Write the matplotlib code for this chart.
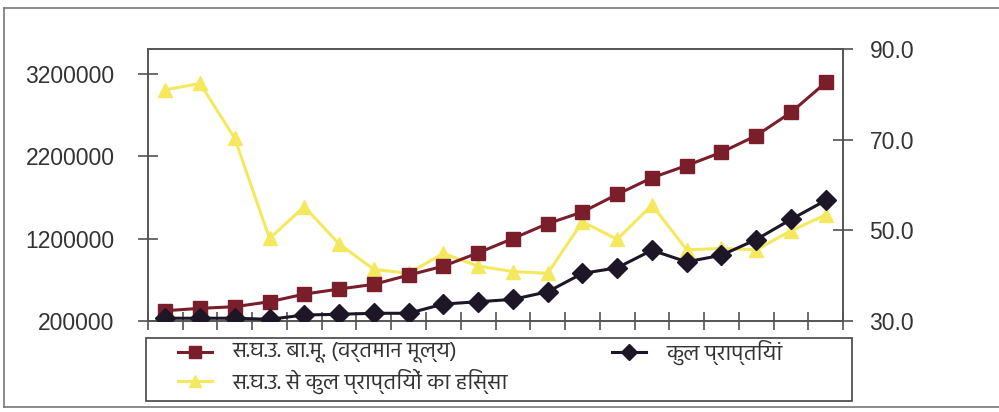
import numpy as np
import matplotlib
matplotlib.use("Agg")
import matplotlib.pyplot as plt
from matplotlib import font_manager as fm
from matplotlib.lines import Line2D
from matplotlib.patches import Rectangle

# वर्ष (20 अवलोकन)
years = np.arange(1, 21)

# स.घ.उ. बा.मू. (वर्तमान मूल्य)
gdp = [324000, 353000, 373000, 433000, 526000, 587000, 644000, 756000, 865000, 1026000,
       1200000, 1381000, 1522000, 1736000, 1938000, 2086000, 2247000, 2449000, 2731000, 3094000]
# कुल प्राप्तियां
receipts = [233000, 233000, 233000, 220000, 272000, 281000, 293000, 293000, 405000, 433000,
            462000, 554000, 777000, 845000, 1058000, 917000, 998000, 1188000, 1433000, 1663000]
# स.घ.उ. से कुल प्राप्तियों का हिस्सा (%)
share = [81.0, 82.4, 70.3, 48.2, 55.2, 47.0, 41.4, 40.5, 44.9, 42.1,
         40.9, 40.5, 51.9, 48.0, 55.6, 45.7, 46.0, 45.7, 49.9, 53.4]

left_ticks = [200000, 1200000, 2200000, 3200000]
right_ticks = [30, 50, 70, 90]

lbl_gdp = "स.घ.उ. बा.मू. (वर्तमान मूल्य)"
lbl_rec = "कुल प्राप्तियां"
lbl_share = "स.घ.उ. से कुल प्राप्तियों का हिस्सा"


def first_font(names):
    for n in names:
        try:
            fm.findfont(n, fallback_to_default=False)
            return n
        except Exception:
            pass
    return None


deva = first_font(["Hind", "Mukta", "Noto Sans Devanagari", "Yantramanav", "Poppins"])
deva_fams = ([deva] if deva else []) + ["Liberation Sans", "DejaVu Sans"]
plt.rcParams["font.family"] = ["Liberation Sans", "DejaVu Sans"]

red = "#7a1e2c"
dark = "#1c1626"
yel = "#f4e95e"
bg = "#ccc9c6"

fig = plt.figure(figsize=(9.99, 4.12), dpi=100)
ax = fig.add_axes([0.148, 0.221, 0.696, 0.660])
ax2 = ax.twinx()
# gray patch on the secondary axes, so the yellow line sits under the left-axis series
ax2.set_facecolor(bg)
ax.patch.set_visible(False)
ax.set_zorder(2)
ax2.set_zorder(1)

x = np.arange(len(years))
l1, = ax.plot(x, gdp, color=red, lw=2.2, marker="s", ms=9.5, mfc=red, mec=red, zorder=3)
l2, = ax.plot(x, receipts, color=dark, lw=2.2, marker="D", ms=10.5, mfc=dark, mec=dark, zorder=4)
l3, = ax2.plot(x, share, color=yel, lw=2.2, marker="^", ms=10, mfc=yel, mec=yel)

ax.set_xlim(-0.5, len(years) - 0.5)
ax.set_ylim(200000, 3500000)
ax2.set_ylim(30, 90)

ax.set_xticks(np.arange(-0.5, len(years)))
ax.set_xticklabels([])
ax.set_yticks(left_ticks)
ax.set_yticklabels([str(v) for v in left_ticks])
ax2.set_yticks(right_ticks)
ax2.set_yticklabels([f"{v:.1f}" for v in right_ticks])

tc = "#444444"
ax.tick_params(axis="x", direction="inout", length=13, width=1.1, color=tc)
ax.tick_params(axis="y", direction="inout", length=14, width=1.1, color=tc,
               labelsize=16.5, labelcolor="#333333", pad=17)
ax2.tick_params(axis="y", direction="inout", length=14, width=1.1, color=tc,
                labelsize=16.5, labelcolor="#333333", pad=12)
for a in (ax, ax2):
    for s in a.spines.values():
        s.set_color("#555555")
        s.set_linewidth(1.2)

# legend box drawn by hand: two entries in the first row, one in the second
W, H = 999.0, 412.0
fig.add_artist(Rectangle((146 / W, 1 - 401 / H), (852 - 146) / W, (401 - 338) / H,
                         transform=fig.transFigure, fill=False,
                         edgecolor="#444444", lw=1.2))
entries = [(l1, lbl_gdp, 178, 352), (l2, lbl_rec, 612, 352), (l3, lbl_share, 178, 381)]
for line, text, x0, y0 in entries:
    yy = 1 - y0 / H
    fig.add_artist(Line2D([x0 / W, (x0 + 34) / W], [yy, yy], transform=fig.transFigure,
                          color=line.get_color(), lw=2.2))
    fig.add_artist(Line2D([(x0 + 17) / W], [yy], transform=fig.transFigure,
                          marker=line.get_marker(), ms=8, color=line.get_color(),
                          mec=line.get_color(), lw=0))
    fig.text((x0 + 54) / W, yy, text, family=deva_fams, fontsize=16,
             color="#333333", va="center", ha="left")

# outer frame
for xs, ys in [([0.004, 0.004], [0.012, 0.98]),
               ([0.004, 1.0], [0.98, 0.98]),
               ([0.004, 1.0], [0.012, 0.012])]:
    fig.add_artist(Line2D(xs, ys, transform=fig.transFigure, color="#777777", lw=1.2))

fig.savefig("out.png", dpi=100, facecolor="white")
